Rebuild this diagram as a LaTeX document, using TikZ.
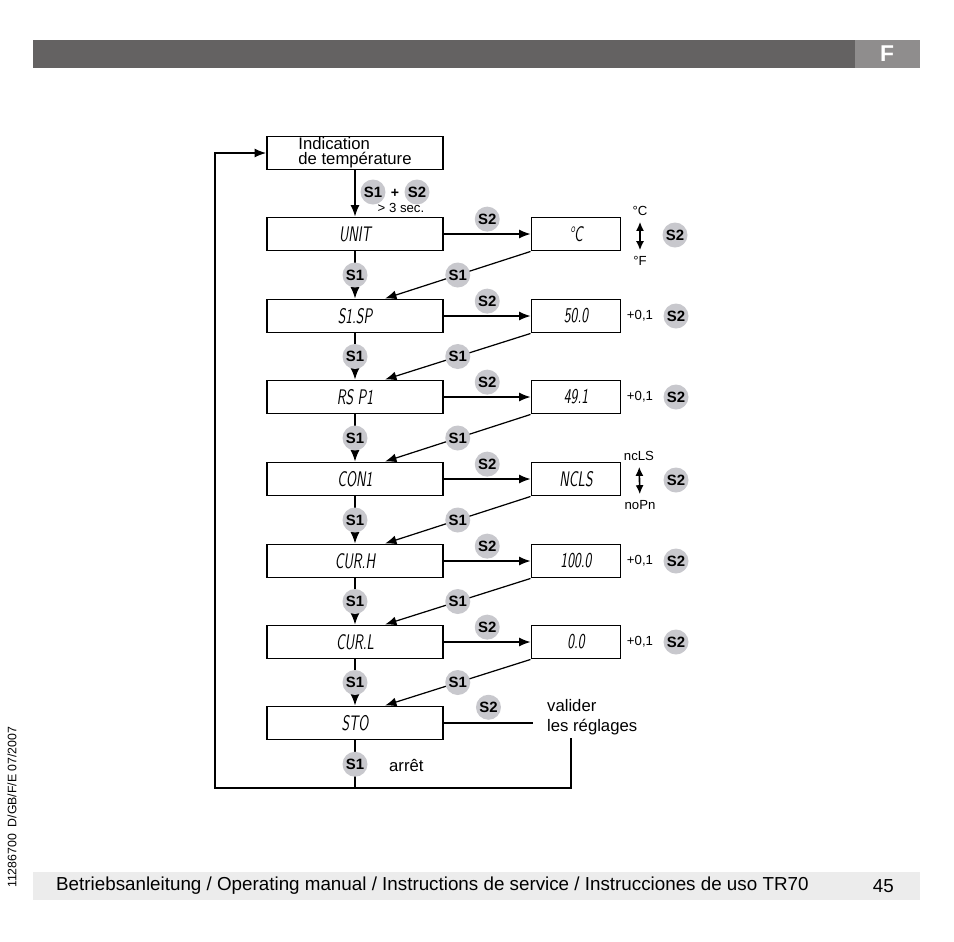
\documentclass[tikz,border=0pt]{standalone}
\usepackage{fontspec}
\setmainfont{Liberation Sans}
\usetikzlibrary{arrows.meta}

\definecolor{barDark}{RGB}{100,98,98}
\definecolor{barLight}{RGB}{143,141,141}
\definecolor{keyGray}{RGB}{200,200,205}
\definecolor{footGray}{RGB}{236,236,236}

% display lettering of the instrument
\newcommand{\disp}[1]{\scalebox{0.66}[1]{\sffamily\itshape\fontsize{12}{12}\selectfont #1}}

\tikzset{
  box/.style={draw,line width=1.1pt,minimum width=3.52cm,minimum height=0.66cm,inner sep=0pt},
  valbox/.style={box,minimum width=1.78cm},
  key/.style={circle,fill=keyGray,minimum size=0.5cm,inner sep=0pt,font=\bfseries\fontsize{8.5}{9}\selectfont},
  flow/.style={line width=0.7pt,-{Latex[length=2.3mm,width=1.8mm]}},
  conn/.style={line width=0.7pt},
  toggle/.style={line width=0.9pt,{Latex[length=1.8mm,width=1.6mm]}-{Latex[length=1.8mm,width=1.6mm]}},
  small/.style={font=\fontsize{7.5}{8}\selectfont}
}

\begin{document}
\begin{tikzpicture}[x=0.02cm,y=-0.02cm]
  \useasboundingbox (0,0) rectangle (954,941);
  % header and footer
  \fill[barDark] (33,40) rectangle (855,68);
  \fill[barLight] (855,40) rectangle (920,68);
  \node[text=white,font=\bfseries\fontsize{13}{13}\selectfont] (tab) at (887,54) {F};
  \fill[footGray] (33,872) rectangle (920,900);
  \node[anchor=west,font=\fontsize{10.7}{12}\selectfont] (foot) at (50,886) {Betriebsanleitung / Operating manual / Instructions de service / Instrucciones de uso TR70};
  \node[anchor=east,font=\fontsize{10.7}{12}\selectfont] (page) at (900,886) {45};
  \node[rotate=90,anchor=west,font=\fontsize{7}{8}\selectfont] (docno) at (12,894) {11286700\ \ D/GB/F/E 07/2007};

  % menu boxes
  \node[box,align=left,font=\fontsize{9.5}{8.6}\selectfont] (ind) at (355,153) {Indication\\de température};
  \node[box] (unit) at (355,234) {\disp{UNIT}};
  \node[box] (sisp) at (355,316) {\disp{S1.SP}};
  \node[box] (rspi) at (355,397) {\disp{RS P1}};
  \node[box] (coni) at (355,479) {\disp{CON1}};
  \node[box] (curh) at (355,561) {\disp{CUR.H}};
  \node[box] (curl) at (355,642) {\disp{CUR.L}};
  \node[box] (sto) at (355,723) {\disp{STO}};

  % value boxes
  \node[valbox] (unitv) at (576,234) {\disp{°C}};
  \node[valbox] (sispv) at (576,316) {\disp{50.0}};
  \node[valbox] (rspiv) at (576,397) {\disp{49.1}};
  \node[valbox] (coniv) at (576,479) {\disp{NCLS}};
  \node[valbox] (curhv) at (576,561) {\disp{100.0}};
  \node[valbox] (curlv) at (576,642) {\disp{0.0}};

  % entry
  \draw[flow] (ind) -- (unit);
  \node[key] (k1) at (373,192) {S1};
  \node[font=\bfseries\fontsize{8}{8}\selectfont] (plus) at (395,193) {+};
  \node[key] (k2) at (417,192) {S2};
  \node[small] (sec) at (401,208) {> 3 sec.};

  % down the menu
  \draw[flow] (unit) -- node[key]{S1} (sisp);
  \draw[flow] (sisp) -- node[key]{S1} (rspi);
  \draw[flow] (rspi) -- node[key]{S1} (coni);
  \draw[flow] (coni) -- node[key]{S1} (curh);
  \draw[flow] (curh) -- node[key]{S1} (curl);
  \draw[flow] (curl) -- node[key]{S1} (sto);

  % into the values
  \draw[flow] (unit) -- node[key,above=1pt]{S2} (unitv);
  \draw[flow] (sisp) -- node[key,above=1pt]{S2} (sispv);
  \draw[flow] (rspi) -- node[key,above=1pt]{S2} (rspiv);
  \draw[flow] (coni) -- node[key,above=1pt]{S2} (coniv);
  \draw[flow] (curh) -- node[key,above=1pt]{S2} (curhv);
  \draw[flow] (curl) -- node[key,above=1pt]{S2} (curlv);

  % back from the values
  \draw[flow] (unitv.south west) -- node[key]{S1} ([xshift=0.6cm]sisp.north);
  \draw[flow] (sispv.south west) -- node[key]{S1} ([xshift=0.6cm]rspi.north);
  \draw[flow] (rspiv.south west) -- node[key]{S1} ([xshift=0.6cm]coni.north);
  \draw[flow] (coniv.south west) -- node[key]{S1} ([xshift=0.6cm]curh.north);
  \draw[flow] (curhv.south west) -- node[key]{S1} ([xshift=0.6cm]curl.north);
  \draw[flow] (curlv.south west) -- node[key]{S1} ([xshift=0.6cm]sto.north);

  % changing the values
  \node[small] (degC) at (640,211) {°C};
  \node[small] (degF) at (640,261) {°F};
  \draw[toggle] (degC) -- (degF);
  \node[key] (k3) at (675,235) {S2};
  \node[small] (inc1) at (640,316) {+0,1};
  \node[key] (k4) at (676,316) {S2};
  \node[small] (inc2) at (640,397) {+0,1};
  \node[key] (k5) at (676,397) {S2};
  \node[small] (nc) at (639,456) {ncLS};
  \node[small] (no) at (640,505) {noPn};
  \draw[toggle] (nc) -- (no);
  \node[key] (k6) at (676,480) {S2};
  \node[small] (inc3) at (640,561) {+0,1};
  \node[key] (k7) at (676,561) {S2};
  \node[small] (inc4) at (640,642) {+0,1};
  \node[key] (k8) at (676,642) {S2};

  % storing and leaving
  \coordinate (save) at (533,723);
  \draw[conn] (sto) -- node[key,above=1.5pt]{S2} (save);
  \node[anchor=west,align=left,font=\fontsize{9.5}{11.3}\selectfont] (valid) at (541,717) {valider\\les réglages};
  \coordinate (ret) at (571,738);
  \coordinate (retL) at (215,788);
  \coordinate (stoBase) at (sto.south |- retL);
  \draw[conn] (sto) -- node[key]{S1} (stoBase);
  \node[anchor=west,font=\fontsize{9.5}{11}\selectfont] (stop) at (383,765) {arrêt};
  \draw[flow] (ret) |- (retL) |- (ind);
\end{tikzpicture}
\end{document}
